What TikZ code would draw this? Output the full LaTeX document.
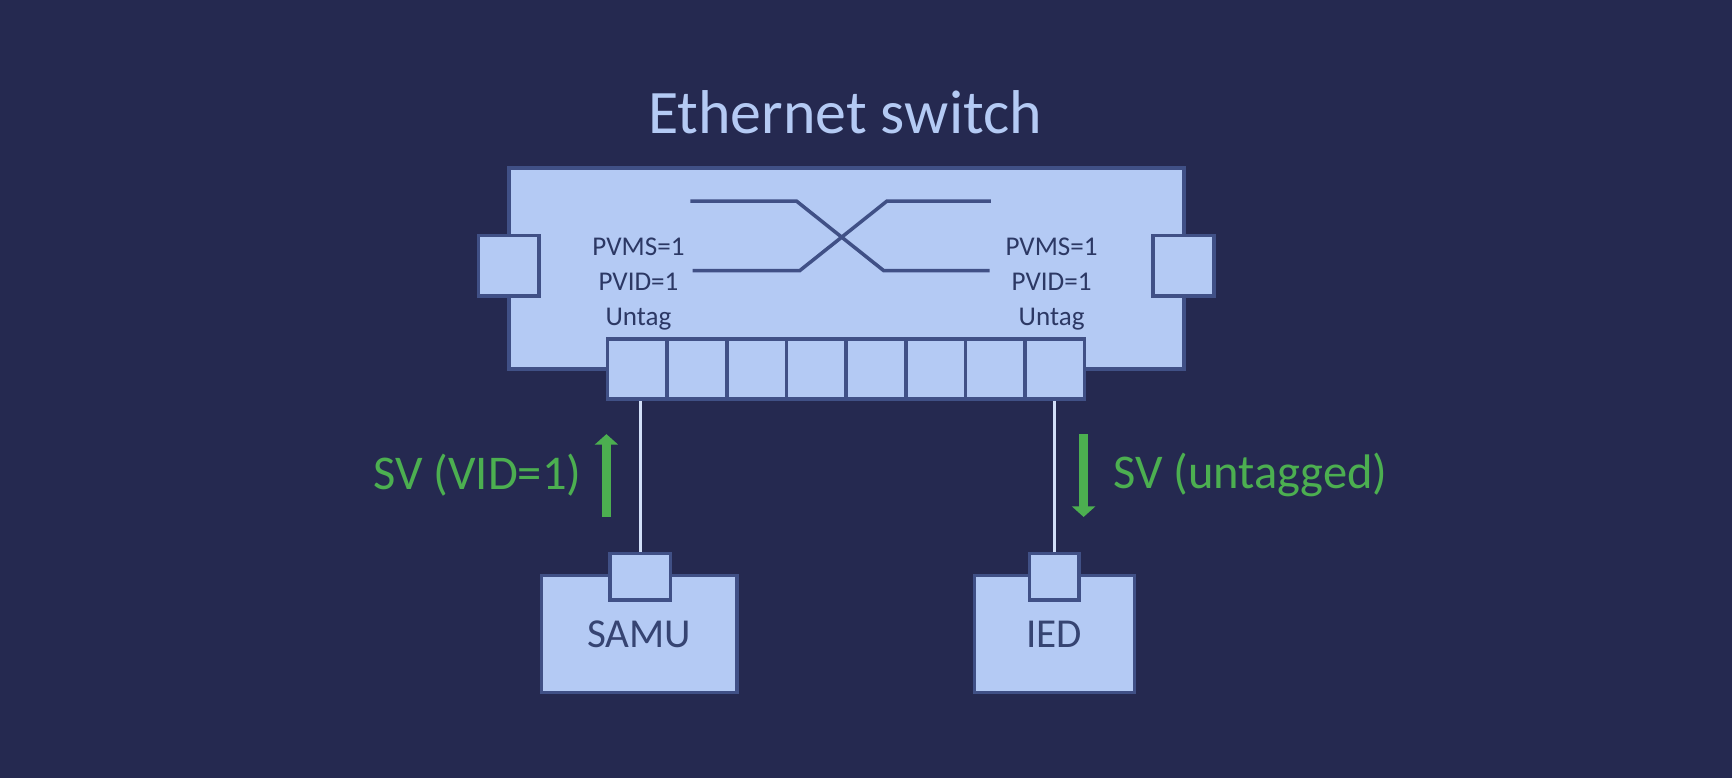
\documentclass[tikz,border=0pt]{standalone}
\usepackage{fontspec}
\setmainfont{Carlito}
\usetikzlibrary{arrows.meta}

\definecolor{bgnavy}{RGB}{37,41,80}
\definecolor{boxblue}{RGB}{180,202,244}
\definecolor{edgeblue}{RGB}{64,80,134}
\definecolor{inkblue}{RGB}{44,56,100}
\definecolor{svgreen}{RGB}{76,175,80}
\newcommand{\pxu}{0.11046mm}

\tikzstyle{unit}=[draw=edgeblue,fill=boxblue,line width=1pt,inner sep=0pt,text=edgeblue!85!black,font=\fontsize{11.7}{14}\selectfont]
\tikzstyle{cell}=[unit,minimum width=54*\pxu,minimum height=54*\pxu]
\tikzstyle{portinfo}=[align=center,inner sep=0pt,text=inkblue,font=\fontsize{7.7}{9.9}\selectfont]
\tikzstyle{cross}=[draw=edgeblue,line width=1pt]
\tikzstyle{wire}=[draw=boxblue!60!white,line width=0.8pt]
\tikzstyle{flow}=[draw=svgreen,line width=2.4pt,-{Triangle[width=6.5pt,length=3pt]}]
\tikzstyle{svlabel}=[inner sep=0pt,text=svgreen,font=\fontsize{13.8}{16}\selectfont]

\begin{document}
\begin{tikzpicture}[x=\pxu,y=-\pxu]
			\useasboundingbox[fill=bgnavy] (0,0) rectangle (1568,704);
			\node[text=boxblue,font=\fontsize{17.6}{20}\selectfont] (title) at (765,102) {Ethernet switch};
			% the switch and its two side ports
			\node[unit,minimum width=611*\pxu,minimum height=182*\pxu] (switch) at (766.5,243) {};
			\node[unit,minimum width=55*\pxu,minimum height=55*\pxu] (lport) at (460.5,240.5) {};
			\node[unit,minimum width=55*\pxu,minimum height=55*\pxu] (rport) at (1071.5,240.5) {};
			% crossing inside the switch
			\draw[cross] (625,182) -- (721,182) -- (800,245) -- (896,245);
			\draw[cross] (627,245) -- (724,245) -- (803,182) -- (897,182);
			\node[portinfo] (linfo) at (578,257) {PVMS=1\\PVID=1\\Untag};
			\node[portinfo] (rinfo) at (952,257) {PVMS=1\\PVID=1\\Untag};
			% row of front ports
			\foreach \i in {1,...,8}
				\node[cell] (p\i) at ({577+54*(\i-1)},334) {};
			% end devices
			\node[unit,minimum width=177*\pxu,minimum height=106*\pxu] (samu) at (578.5,574) {SAMU};
			\node[unit,minimum width=55*\pxu,minimum height=42*\pxu] (samuport) at (579.5,522) {};
			\node[unit,minimum width=145*\pxu,minimum height=106*\pxu] (ied) at (954.5,574) {IED};
			\node[unit,minimum width=45*\pxu,minimum height=42*\pxu] (iedport) at (954.5,522) {};
			% cables
			\path[wire] (samuport.north) -- (samuport.north |- p1.south);
			\path[wire] (iedport.north) -- (iedport.north |- p8.south);
			% traffic direction
			\coordinate (upfrom) at (549,468);
			\coordinate (upto) at (549,393);
			\coordinate (downfrom) at (981,393);
			\coordinate (downto) at (981,468);
			\draw[flow] (upfrom) -- (upto);
			\draw[flow] (downfrom) -- (downto);
			\node[svlabel,anchor=east] (svtag) at (527,430) {SV (VID=1)};
			\node[svlabel,anchor=west] (svuntag) at (1007,430) {SV (untagged)};
		\end{tikzpicture}
\end{document}
